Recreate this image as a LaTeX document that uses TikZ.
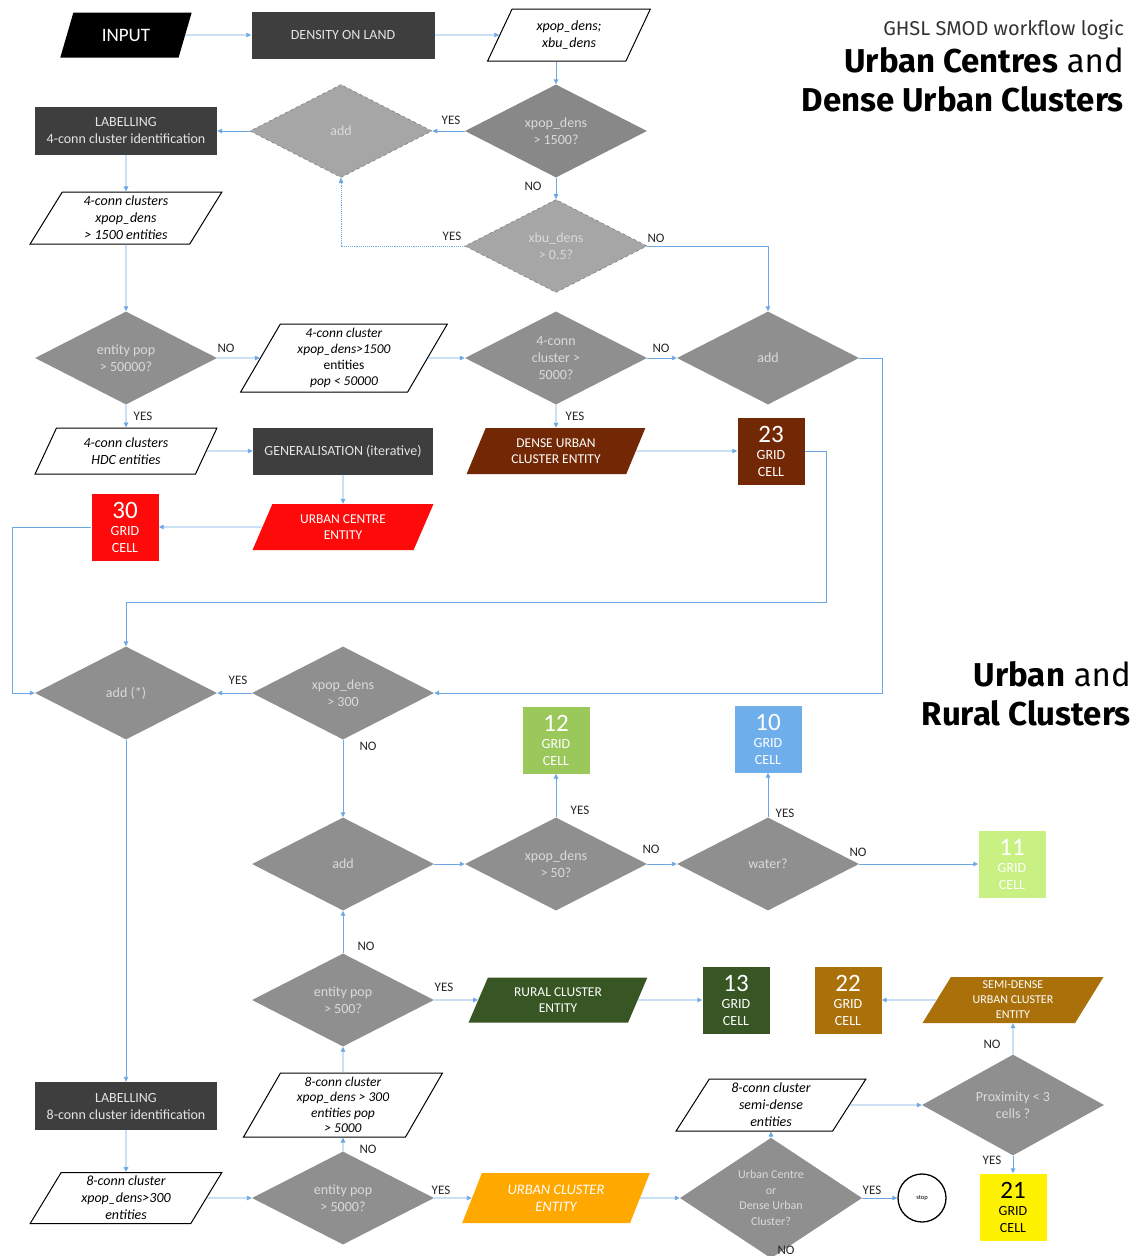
\documentclass[tikz,border=0pt]{standalone}
\usepackage{fontspec}
\setmainfont{Carlito}
\newfontfamily\headf{Fira Sans}
\usetikzlibrary{shapes.geometric,arrows.meta,calc}
\definecolor{arrc}{RGB}{110,168,228}
\definecolor{dkbox}{RGB}{62,62,62}
\definecolor{boxtxt}{RGB}{228,228,228}
\definecolor{diag}{RGB}{143,143,143}
\definecolor{diagd}{RGB}{136,136,136}
\definecolor{diagl}{RGB}{166,166,166}
\definecolor{diatxt}{RGB}{218,218,218}
\definecolor{brownc}{RGB}{115,40,5}
\definecolor{dgreen}{RGB}{55,86,35}
\definecolor{goldc}{RGB}{170,112,10}
\definecolor{orangec}{RGB}{255,168,0}
\definecolor{lgreen}{RGB}{155,200,90}
\definecolor{bluec}{RGB}{110,175,235}
\definecolor{vlgreen}{RGB}{200,240,130}
\definecolor{redc}{RGB}{255,10,10}
\tikzset{
  arr/.style={draw=arrc, line width=0.9pt, -{Triangle[length=5pt,width=4.5pt]}},
  dotarr/.style={arr, densely dotted},
  dbox/.style={rectangle, fill=dkbox, text=boxtxt, font=\fontsize{14}{17}\selectfont, align=center, inner sep=0pt, minimum width=182pt, minimum height=48pt},
  dia/.style={diamond, fill=diag, text=diatxt, font=\fontsize{14}{17}\selectfont, align=center, inner sep=0pt, minimum width=182pt, minimum height=93pt},
  ddia/.style={dia, fill=diagl, draw=gray, dashed, line width=0.6pt},
  para/.style={trapezium, trapezium left angle=64, trapezium right angle=116, trapezium stretches=true, inner sep=0pt, align=center, font=\fontsize{13.5}{16}\selectfont},
  wpara/.style={para, fill=white, draw=black, line width=1pt, font=\itshape\fontsize{14}{17}\selectfont},
  cpara/.style={para, fill=#1, text=white},
  cell/.style={rectangle, fill=#1, text=white, minimum width=67pt, minimum height=67pt, inner sep=0pt, align=center, font=\fontsize{14}{17}\selectfont},
  lbl/.style={font=\fontsize{13}{13}\selectfont, text=black!85, inner sep=0pt},
  stopc/.style={circle, draw=black, line width=1.3pt, fill=white, minimum size=48pt, inner sep=0pt, font=\fontsize{6.5}{6.5}\selectfont},
  head/.style={anchor=base east, inner sep=0pt, font=\headf\fontsize{33}{33}\selectfont},
}
\newcommand{\cellnum}[1]{{\fontsize{25}{22}\selectfont #1}}
\begin{document}
\begin{tikzpicture}[x=1pt,y=-1pt]
\useasboundingbox[fill=white] (0,0) rectangle (1139,1256);

% titles
\node[head, font=\headf\fontsize{20}{20}\selectfont, text=black!80] (t1) at (1124,35) {GHSL SMOD workflow logic};
\node[head] (t2) at (1124,72) {\textbf{Urban Centres} and};
\node[head] (t3) at (1124,111) {\textbf{Dense Urban Clusters}};
\node[head] (t4) at (1131,686) {\textbf{Urban} and};
\node[head] (t5) at (1131,725) {\textbf{Rural Clusters}};

% top rows
\node[para, fill=black, text=white, minimum width=132pt, minimum height=45pt, font=\fontsize{19}{19}\selectfont] (input) at (126,35) {INPUT};
\node[dbox, minimum width=183pt, minimum height=47pt] (dens) at (343,35) {DENSITY ON LAND};
\node[wpara, minimum width=164pt, minimum height=52pt] (xpd) at (569,35) {xpop\_dens;\\xbu\_dens};
\node[dia, fill=diagd] (d1500) at (556,131) {xpop\_dens\\> 1500?};
\node[ddia] (addtop) at (341,131) {add};
\node[dbox] (lab4) at (126,131) {LABELLING\\4-conn cluster identification};
\node[ddia] (dbu) at (556,246) {xbu\_dens\\> 0.5?};
\node[wpara, minimum width=192pt, minimum height=52pt] (c4) at (126,218) {4-conn clusters\\xpop\_dens\\> 1500 entities};

\node[dia] (d50000) at (126,358) {entity pop\\> 50000?};
\node[wpara, minimum width=207pt, minimum height=68pt, font=\itshape\fontsize{13.5}{16}\selectfont] (c4b) at (344,358) {4-conn cluster\\xpop\_dens>1500\\\upshape entities\\pop < 50000};
\node[dia] (d5000) at (556,358) {4-conn\\cluster >\\5000?};
\node[dia] (add2) at (768,358) {add};

\node[wpara, minimum width=182pt, minimum height=46pt] (hdc) at (126,451) {4-conn clusters\\HDC entities};
\node[dbox, minimum width=180pt, minimum height=47pt] (gen) at (343,451) {GENERALISATION (iterative)};
\node[cpara=redc, minimum width=181pt, minimum height=46pt] (uce) at (343,527) {URBAN CENTRE\\ENTITY};
\node[cell=redc] (g30) at (125,527) {\cellnum{30}\\GRID\\CELL};
\node[cpara=brownc, minimum width=179pt, minimum height=46pt] (duc) at (556,451) {DENSE URBAN\\CLUSTER ENTITY};
\node[cell=brownc] (g23) at (771,451) {\cellnum{23}\\GRID\\CELL};

% middle
\node[dia] (addstar) at (126,693) {add (*)};
\node[dia] (d300) at (343,693) {xpop\_dens\\> 300};
\node[cell=lgreen] (g12) at (556,740) {\cellnum{12}\\GRID\\CELL};
\node[cell=bluec] (g10) at (768,739) {\cellnum{10}\\GRID\\CELL};
\node[cell=vlgreen] (g11) at (1012,864) {\cellnum{11}\\GRID\\CELL};
\node[dia] (add3) at (343,864) {add};
\node[dia] (d50) at (556,864) {xpop\_dens\\> 50?};
\node[dia] (water) at (768,864) {water?};

\node[dia] (d500) at (343,1000) {entity pop\\> 500?};
\node[cpara=dgreen, minimum width=179pt, minimum height=45pt] (rce) at (558,1000) {RURAL CLUSTER\\ENTITY};
\node[cell=dgreen] (g13) at (736,1000) {\cellnum{13}\\GRID\\CELL};
\node[cell=goldc] (g22) at (848,1000) {\cellnum{22}\\GRID\\CELL};
\node[cpara=goldc, minimum width=181pt, minimum height=46pt, font=\fontsize{12}{15}\selectfont] (sduce) at (1013,1000) {SEMI-DENSE\\URBAN CLUSTER\\ENTITY};
\node[dia] (prox) at (1013,1105) {Proximity < 3\\cells ?};
\node[cell=yellow, text=black] (g21) at (1013,1207) {\cellnum{21}\\GRID\\CELL};

% bottom
\node[wpara, minimum width=190pt, minimum height=52pt] (semi) at (771,1105) {8-conn cluster\\semi-dense\\entities};
\node[dia, font=\fontsize{12}{15.5}\selectfont] (ucdu) at (771,1198) {Urban Centre\\or\\Dense Urban\\Cluster?};
\node[stopc] (stop) at (922,1198) {stop};
\node[cpara=orangec, minimum width=188pt, minimum height=50pt, font=\itshape\fontsize{14.5}{17}\selectfont] (ucl) at (556,1198) {URBAN CLUSTER\\ENTITY};
\node[dia] (d5000b) at (343,1198) {entity pop\\> 5000?};
\node[wpara, minimum width=199pt, minimum height=64pt, font=\itshape\fontsize{13.5}{15.5}\selectfont] (c8pop) at (343,1105) {8-conn cluster\\xpop\_dens > 300\\entities pop\\> 5000};
\node[dbox] (lab8) at (126,1106) {LABELLING\\8-conn cluster identification};
\node[wpara, minimum width=192pt, minimum height=51pt] (c8) at (126,1198) {8-conn cluster\\xpop\_dens>300\\entities};

% connectors
\draw[arr] (input) -- (dens);
\draw[arr] (dens) -- (xpd);
\draw[arr] (d1500.north |- xpd.south) -- (d1500.north);
\draw[arr] (d1500.west) -- (addtop.east);
\draw[arr] (addtop.west) -- (lab4.east);
\draw[arr] (d1500.south) -- (dbu.north);
\draw[dotarr] (dbu.west) -| (addtop.south);
\draw[arr] (dbu.east) -| (add2.north);
\draw[arr] (lab4.south) -- (c4.north);
\draw[arr] (c4.south) -- (d50000.north);
\draw[arr] (d50000.east) -- (c4b.west);
\draw[arr] (c4b.east) -- (d5000.west);
\draw[arr] (d5000.east) -- (add2.west);
\draw[arr] (add2.east) -- ++(23,0) |- (d300.east);
\draw[arr] (d50000.south) -- (hdc.north);
\draw[arr] (hdc.east) -- (gen.west);
\draw[arr] (gen.south) -- (uce.north);
\draw[arr] (uce.west) -- (g30.east);
\draw[arr] (g30.west) -- ++(-79,0) |- (addstar.west);
\draw[arr] (d5000.south) -- (duc.north);
\draw[arr] (duc.east) -- (g23.west);
\draw[arr] (g23.east) -- ++(22,0) |- ($(addstar.north)+(0,-44)$) -- (addstar.north);
\draw[arr] (d300.west) -- (addstar.east);
\draw[arr] (d300.south) -- (add3.north);
\draw[arr] (add3.east) -- (d50.west);
\draw[arr] (d50.north) -- (g12.south);
\draw[arr] (d50.east) -- (water.west);
\draw[arr] (water.north) -- (g10.south);
\draw[arr] (water.east) -- (g11.west);
\draw[arr] (d500.north) -- (add3.south);
\draw[arr] (d500.east) -- (rce.west);
\draw[arr] (rce.east) -- (g13.west);
\draw[arr] (sduce.west) -- (g22.east);
\draw[arr] (prox.north) -- (sduce.south);
\draw[arr] (prox.south) -- (g21.north);
\draw[arr] (semi.east) -- (prox.west);
\draw[arr] (ucdu.north) -- (semi.south);
\draw[arr] (ucdu.east) -- (stop.west);
\draw[arr] (ucl.east) -- (ucdu.west);
\draw[arr] (d5000b.east) -- (ucl.west);
\draw[arr] (d5000b.north) -- (c8pop.south);
\draw[arr] (c8pop.north) -- (d500.south);
\draw[arr] (addstar.south) -- (lab8.north);
\draw[arr] (lab8.south) -- (c8.north);
\draw[arr] (c8.east) -- (d5000b.west);

% labels
\node[lbl] (y1) at (451,120) {YES};
\node[lbl] (n1) at (533,186) {NO};
\node[lbl] (y2) at (452,236) {YES};
\node[lbl] (n2) at (656,238) {NO};
\node[lbl] (n3) at (226,348) {NO};
\node[lbl] (n4) at (661,348) {NO};
\node[lbl] (y3) at (143,416) {YES};
\node[lbl] (y4) at (575,416) {YES};
\node[lbl] (y5) at (238,680) {YES};
\node[lbl] (n5) at (368,746) {NO};
\node[lbl] (y6) at (580,810) {YES};
\node[lbl] (n6) at (651,849) {NO};
\node[lbl] (y7) at (785,813) {YES};
\node[lbl] (n7) at (858,852) {NO};
\node[lbl] (n8) at (366,946) {NO};
\node[lbl] (y8) at (444,987) {YES};
\node[lbl] (n9) at (992,1044) {NO};
\node[lbl] (y9) at (992,1160) {YES};
\node[lbl] (n10) at (368,1149) {NO};
\node[lbl] (y10) at (441,1190) {YES};
\node[lbl] (y11) at (872,1190) {YES};
\node[lbl] (n11) at (786,1250) {NO};
\end{tikzpicture}
\end{document}
